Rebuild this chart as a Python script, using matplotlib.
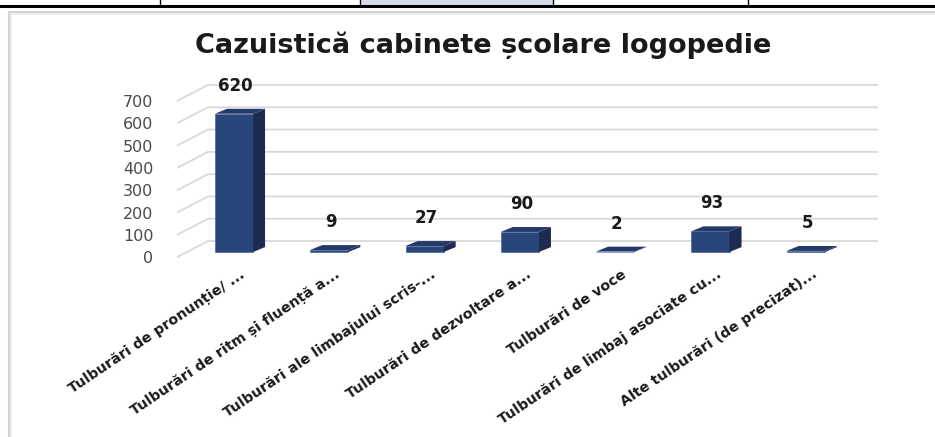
import numpy as np
import matplotlib.pyplot as plt
from matplotlib.patches import Polygon
from matplotlib.lines import Line2D

# data
categories = [
    "Tulburări de pronunție/ ...",
    "Tulburări de ritm și fluență a...",
    "Tulburări ale limbajului scris-...",
    "Tulburări de dezvoltare a...",
    "Tulburări de voce",
    "Tulburări de limbaj asociate cu...",
    "Alte tulburări (de precizat)...",
]
values = [620, 9, 27, 90, 2, 93, 5]
yticks = [0, 100, 200, 300, 400, 500, 600, 700]
title = "Cazuistică cabinete școlare logopedie"

FRONT = "#284679"
SIDE = "#1b2c50"
TOP = "#22396a"
GRID = "#d9d9d9"
W, H = 935, 437

plt.rcParams["font.family"] = ["DejaVu Sans"]
fig = plt.figure(figsize=(W / 100, H / 100), dpi=100)

# page decoration: table row above the chart, chart frame
deco = fig.add_axes([0, 0, 1, 1])
deco.set_xlim(0, W)
deco.set_ylim(H, 0)
deco.axis("off")
deco.fill_between([360, 553], 0, 5, color="#d6dce5", lw=0)
deco.plot([0, W], [6, 6], color="black", lw=2.2)
for xv in [160, 360, 553, 748]:
    deco.plot([xv, xv], [0, 6], color="black", lw=1)
deco.plot([9, 9], [12, H], color="#d4d4d4", lw=2.2)
deco.plot([9, W], [12, 12], color="#d4d4d4", lw=2.2)
deco.plot([11, 11], [14, H], color="#efefef", lw=1.2)
deco.plot([11, W], [14, 14], color="#efefef", lw=1.2)

# chart axes (front face of bars in data coordinates)
ax = fig.add_axes([177 / W, (H - 258.7) / H, (878 - 177) / W, (258.7 - 82.5) / H])
ax.set_xlim(-0.598, 6.758)
ax.set_ylim(-30, 760)
for s in ax.spines.values():
    s.set_visible(False)
ax.patch.set_alpha(0)

x = np.arange(len(values))
bw = 0.40
ddx, ddy = 0.126, 22  # bar depth
fx0 = -0.598
gdx, front_off, back_off = 0.325, -23, 49  # floor/wall depth

for t in yticks:
    ax.add_line(Line2D([fx0, fx0 + gdx, 6.758], [t + front_off, t + back_off, t + back_off],
                       color=GRID, lw=1.3, zorder=1))

ax.bar(x, values, width=bw, color=FRONT, zorder=3, edgecolor="#3b5a91", linewidth=0.4)
for xi, v in zip(x, values):
    l, r = xi - bw / 2, xi + bw / 2
    ax.add_patch(Polygon([[l, v], [l + ddx, v + ddy], [r + ddx, v + ddy], [r, v]],
                         closed=True, color=TOP, zorder=3, lw=0))
    ax.add_patch(Polygon([[r, 0], [r + ddx, ddy], [r + ddx, v + ddy], [r, v]],
                         closed=True, color=SIDE, zorder=3, lw=0))
    ax.annotate(str(v), (xi, v), xytext=(1, 20), textcoords="offset points",
                ha="center", va="center", fontsize=12, fontweight="bold", color="#1a1a1a")

ax.set_yticks(np.array(yticks) + front_off, [str(t) for t in yticks])
ax.set_xticks(x + 0.06, categories)
ax.tick_params(axis="y", length=0, pad=17, labelsize=11.5, labelcolor="#4a4a4a")
ax.tick_params(axis="x", length=0, pad=6, labelsize=10.3, labelcolor="#1a1a1a")
for lab in ax.get_xticklabels():
    lab.set_rotation(34)
    lab.set_ha("right")
    lab.set_rotation_mode("anchor")
    lab.set_fontweight("bold")

fig.text(483 / W, 1 - 45 / H, title, ha="center", va="center",
         fontsize=19.5, fontweight="bold", color="#1a1a1a")

fig.savefig("out.png", dpi=100)
